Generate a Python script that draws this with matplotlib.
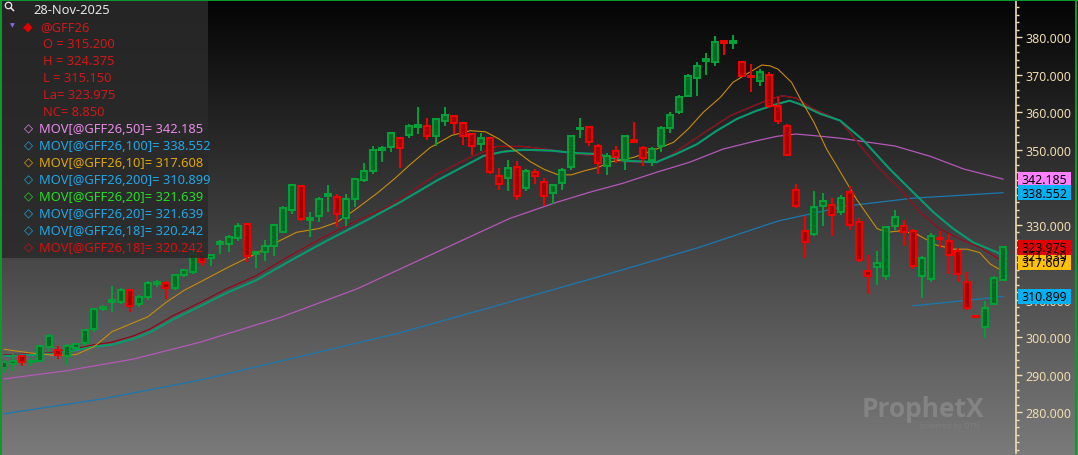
import numpy as np
import matplotlib
matplotlib.use("Agg")
import matplotlib.pyplot as plt
from matplotlib.patches import Rectangle, Circle
from matplotlib.ticker import MultipleLocator, FormatStrFormatter

# ---------------- data ----------------
opens = [291.7, 293.0, 294.9, 293.3, 293.8, 297.3, 296.7, 295.1, 297.1, 298.5,
         302.2, 307.5, 309.5, 309.3, 312.7, 308.9, 310.7, 314.2, 314.5, 313.1,
         316.6, 317.5, 322.2, 321.1, 324.8, 324.9, 326.4, 330.2, 322.2, 322.8,
         324.4, 328.2, 334.0, 340.3, 331.2, 332.3, 337.6, 337.3, 331.7, 336.9,
         342.0, 344.4, 350.0, 350.7, 353.1, 353.9, 356.2, 356.3, 353.8, 357.8,
         358.9, 357.1, 354.2, 351.5, 353.1, 342.9, 342.4, 345.3, 339.7, 344.0,
         341.5, 338.5, 341.1, 345.3, 355.5, 356.0, 351.1, 345.6, 349.8, 347.4,
         352.6, 350.4, 347.4, 350.9, 355.7, 360.2, 364.4, 369.1, 373.6, 373.5,
         378.9, 378.6, 373.5, 369.7, 368.4, 369.9, 361.6, 356.4, 339.4, 328.4,
         327.5, 334.9, 335.3, 333.5, 338.8, 330.7, 317.8, 318.7, 316.3, 329.6,
         329.6, 328.4, 316.4, 315.5, 326.6, 325.8, 323.1, 314.7, 305.6, 302.7,
         308.9, 315.2]
highs = [294.0, 295.5, 295.2, 294.5, 298.0, 300.8, 297.8, 298.2, 298.6, 302.3,
         307.8, 308.5, 313.6, 313.2, 313.0, 311.2, 315.0, 315.2, 315.0, 317.0,
         318.3, 323.5, 322.5, 322.3, 325.9, 327.2, 330.5, 330.6, 323.1, 326.0,
         330.3, 335.0, 341.0, 340.7, 333.3, 337.3, 340.6, 338.2, 338.2, 342.6,
         346.5, 351.0, 351.0, 354.8, 353.5, 356.8, 361.3, 358.4, 358.6, 361.3,
         359.3, 357.5, 354.6, 354.5, 353.5, 345.1, 347.4, 347.1, 345.0, 344.9,
         342.4, 341.0, 345.1, 354.0, 358.4, 356.4, 351.5, 349.1, 350.9, 354.0,
         357.3, 350.9, 350.7, 356.3, 360.2, 364.5, 370.2, 373.3, 375.8, 380.3,
         379.3, 380.6, 373.8, 372.9, 371.5, 370.8, 364.0, 357.0, 340.9, 332.3,
         339.1, 338.5, 337.1, 338.0, 340.3, 331.8, 322.0, 323.1, 329.7, 334.0,
         331.4, 328.8, 321.6, 327.8, 328.4, 327.5, 323.7, 317.3, 305.6, 309.8,
         316.3, 324.375]
lows = [290.5, 291.1, 292.4, 292.4, 293.3, 296.0, 294.2, 292.6, 296.8, 297.8,
        301.5, 307.0, 306.7, 308.8, 306.8, 308.0, 310.0, 313.5, 310.2, 312.5,
        316.0, 317.0, 318.9, 318.9, 322.2, 322.7, 325.7, 320.2, 318.4, 320.4,
        321.8, 327.8, 332.9, 331.0, 326.8, 330.7, 333.5, 329.3, 329.6, 334.7,
        341.5, 343.6, 346.8, 349.3, 345.1, 353.1, 354.2, 352.7, 351.1, 356.3,
        354.2, 351.3, 348.6, 349.8, 343.5, 339.4, 339.1, 336.7, 339.0, 340.9,
        334.9, 335.5, 339.4, 344.7, 353.1, 351.1, 343.5, 343.3, 346.5, 344.7,
        351.8, 345.8, 345.6, 349.5, 354.5, 359.5, 364.0, 364.4, 369.9, 372.4,
        375.3, 376.9, 369.5, 365.5, 366.9, 361.1, 356.9, 348.3, 334.4, 321.1,
        326.9, 329.6, 327.1, 332.6, 328.7, 320.2, 311.6, 314.0, 315.4, 328.7,
        324.3, 318.2, 310.4, 314.7, 323.7, 316.9, 314.8, 307.4, 305.4, 299.8,
        308.5, 315.15]
closes = [293.5, 293.6, 293.5, 293.8, 297.6, 300.4, 295.3, 297.8, 298.2, 302.0,
          307.5, 308.1, 309.9, 312.6, 308.4, 310.7, 314.4, 314.7, 313.1, 316.6,
          317.9, 322.2, 320.0, 322.0, 325.3, 326.8, 329.6, 321.6, 322.8, 324.3,
          329.9, 334.4, 340.6, 331.5, 331.8, 336.9, 338.1, 332.9, 336.9, 342.2,
          344.4, 350.0, 350.5, 354.4, 350.4, 356.3, 356.7, 353.8, 358.2, 359.3,
          357.1, 353.8, 351.1, 353.1, 344.2, 340.9, 345.1, 337.6, 344.4, 342.9,
          337.6, 340.6, 344.7, 353.6, 355.9, 352.2, 346.5, 348.4, 348.0, 353.6,
          352.2, 347.7, 350.2, 355.7, 359.3, 364.0, 369.6, 372.4, 374.1, 378.7,
          378.5, 379.0, 369.8, 369.3, 370.8, 361.6, 357.8, 348.6, 334.9, 325.5,
          334.7, 336.4, 332.6, 337.1, 329.9, 320.7, 316.4, 319.8, 329.3, 332.0,
          328.0, 318.9, 321.1, 326.9, 326.2, 322.0, 316.9, 307.7, 305.4, 307.7,
          315.7, 323.975]

ma10_x = [0, 3, 6, 8, 10, 12, 14, 16, 18, 20, 22, 25, 28, 30, 32.5, 35, 37, 39, 41.5,
          43.5, 45, 47.3, 49.7, 51.8, 53.5, 55, 57, 58.5, 60, 61.5, 63, 64.5, 66, 67.3,
          70, 72.5, 74.4, 76, 77.7, 79.6, 81, 82.5, 84.2, 85.1, 86, 87.5, 88.5, 90,
          91.4, 92.7, 94.7, 97, 98.1, 99.6, 101.4, 103.6, 105.5, 107, 108.4, 109.6, 111]
ma10_y = [296.8, 295.8, 295.1, 295.4, 297.5, 301.5, 303.5, 305.5, 309.3, 312.5, 315.0,
          318.8, 322.3, 325.0, 328.0, 329.0, 330.7, 334.0, 338.5, 342.5, 345.8, 350.5,
          353.8, 355.1, 354.8, 352.9, 349.5, 346.8, 344.8, 343.4, 343.3, 344.4, 345.3,
          346.7, 348.0, 350.2, 352.0, 355.5, 360.0, 364.0, 368.0, 370.2, 372.6, 372.4,
          371.5, 368.0, 363.5, 357.3, 350.2, 345.0, 336.9, 329.0, 328.0, 328.4, 327.5,
          324.6, 323.5, 323.5, 322.6, 319.5, 317.6]

ma18_x = [0, 5, 8, 10, 12, 14.4, 16.2, 18.8, 21.8, 24.7, 28, 31.8, 35.5, 39.2, 42.9,
          44.4, 48.1, 51.8, 54.7, 57.7, 60.7, 63.6, 65.9, 68.8, 72.5, 74, 76.2, 78.4,
          80.7, 82.9, 85.1, 86.5, 88, 89.9, 92.9, 95, 97.3, 99.6, 101.8, 104, 106.2,
          108.4, 111]
ma18_y = [295.3, 295.8, 297.0, 298.0, 298.7, 300.4, 302.2, 305.8, 309.3, 312.9, 316.4,
          321.8, 326.7, 331.1, 335.1, 337.5, 343.5, 348.0, 350.9, 350.9, 350.0, 348.9,
          348.4, 346.8, 346.7, 348.4, 352.0, 355.5, 359.1, 361.3, 363.5, 364.4, 363.8,
          360.9, 357.8, 351.5, 344.9, 339.5, 333.3, 328.9, 326.2, 324.0, 320.242]

ma20_x = [0, 5, 8, 10, 12, 14.4, 16.2, 18.8, 21.8, 24.7, 28, 31.8, 35.5, 40.7, 44,
          48.1, 53.3, 55.5, 57.7, 60.7, 63.6, 65.9, 68.8, 72.5, 74.7, 77, 79.2, 81.4,
          83.6, 85.9, 87.3, 88.4, 90.7, 92.9, 95.5, 98.4, 101, 103.3, 105.5, 107.7,
          110.3, 111]
ma20_y = [295.0, 295.5, 296.6, 297.5, 298.0, 299.6, 301.3, 304.8, 308.3, 311.8, 315.2,
          320.4, 325.3, 331.7, 336.0, 341.8, 348.4, 349.5, 350.0, 349.8, 349.1, 348.9,
          347.1, 346.7, 348.9, 351.5, 355.1, 358.2, 360.4, 362.2, 363.1, 362.2, 359.6,
          357.8, 352.5, 344.9, 338.7, 333.3, 328.9, 325.3, 322.7, 321.639]

ma50_x = [0, 7, 14.4, 21.8, 30.7, 39.2, 44, 56.2, 61.4, 65.1, 68.8, 72.5, 76.2, 79.9,
          83.6, 85.9, 88, 89.9, 92.9, 99, 103, 106.6, 111]
ma50_y = [288.9, 291.1, 294.2, 298.7, 305.3, 312.9, 318.2, 331.7, 336.0, 338.7, 341.1,
          344.0, 346.7, 350.2, 352.4, 353.6, 354.2, 353.8, 353.1, 351.0, 348.2, 344.9,
          342.185]

ma100_x = [0, 11, 22, 31, 44, 55, 66, 77, 86, 93.6, 101, 111]
ma100_y = [279.6, 283.6, 288.7, 293.8, 301.2, 308.6, 316.1, 323.8, 331.0, 335.0, 337.1,
           338.552]

ma200_x = [101, 104.7, 108.4, 111]
ma200_y = [308.4, 309.3, 310.2, 310.899]

legend_date = "28-Nov-2025"
symbol = "@GFF26"
ohlc_lines = ["O = 315.200", "H = 324.375", "L = 315.150", "La= 323.975", "NC= 8.850"]
ma_labels = ["MOV[@GFF26,50]= 342.185", "MOV[@GFF26,100]= 338.552",
             "MOV[@GFF26,10]= 317.608", "MOV[@GFF26,200]= 310.899",
             "MOV[@GFF26,20]= 321.639", "MOV[@GFF26,20]= 321.639",
             "MOV[@GFF26,18]= 320.242", "MOV[@GFF26,18]= 320.242"]
ma_label_colors = ["#e88ae8", "#1ea8e8", "#e0a800", "#1ea8e8",
                   "#22e022", "#1ea8e8", "#1ea8e8", "#d81010"]

axis_values = [342.185, 338.552, 321.639, 323.975, 317.607, 310.899]
axis_colors = ["#ff80ff", "#00b0f0", "#00ff00", "#e00000", "#ffc000", "#00b0f0"]
axis_shift = [0, 0, 0, 0, 2.4, 0]   # label nudges seen in the reference

yticks = list(range(280, 390, 10))

# ---------------- figure ----------------
W, H = 1078, 456
fig = plt.figure(figsize=(W / 100, H / 100), dpi=100)
FONT = ["Noto Sans", "DejaVu Sans"]
FS = 9.3

bg = fig.add_axes([0, 0, 1, 1], zorder=0)
g = np.linspace(4, 122, H) / 255.0
img = np.repeat(np.repeat(g[:, None, None], 3, axis=2), 2, axis=1)
bg.imshow(img, extent=[0, 1, 0, 1], aspect="auto", origin="upper")
bg.set_xlim(0, 1); bg.set_ylim(0, 1); bg.axis("off")

ax = fig.add_axes([3 / W, 2 / H, (1016 - 3) / W, 452 / H], zorder=1)
ax.set_facecolor("none")
ax.set_xlim((3 - 4) / 9, (1016 - 4) / 9)
ax.set_ylim(380 - (454 - 38.3) / 3.75, 380 + (38.3 - 2) / 3.75)
for s in ["left", "top", "bottom"]:
    ax.spines[s].set_visible(False)
ax.spines["right"].set_color("#f0dcb0")
ax.spines["right"].set_linewidth(1.2)
ax.set_xticks([])
ax.yaxis.tick_right()
ax.set_yticks(yticks)
ax.yaxis.set_major_formatter(FormatStrFormatter("%.3f"))
ax.yaxis.set_minor_locator(MultipleLocator(2))
ax.tick_params(axis="y", which="major", length=4.5, width=1, color="#f0dcb0",
               labelcolor="#f0dcb0", labelsize=8.9, pad=2.5)
ax.tick_params(axis="y", which="minor", length=2.3, width=1, color="#f0dcb0")
for lab in ax.get_yticklabels():
    lab.set_family(FONT)

# moving averages
ax.plot(ma100_x, ma100_y, color="#1a78b0", lw=0.9, zorder=2)
ax.plot(ma200_x, ma200_y, color="#1a78b0", lw=0.9, zorder=2)
ax.plot(ma50_x, ma50_y, color="#b458b8", lw=0.9, zorder=2)
ax.plot(ma18_x, ma18_y, color="#1a78b0", lw=0.9, zorder=2)
ax.plot(ma18_x, ma18_y, color="#a00000", lw=0.9, zorder=2.1)
ax.plot(ma20_x, ma20_y, color="#1b80c0", lw=1.5, zorder=2.2)
ax.plot(ma20_x, ma20_y, color="#00a83a", lw=0.9, zorder=2.3)
ax.plot(ma10_x, ma10_y, color="#c88c10", lw=0.8, zorder=2.4)

# candles
for i, (o, h, l, c) in enumerate(zip(opens, highs, lows, closes)):
    up = c >= o
    edge = "#00a038" if up else "#f00000"
    fill = "#006a24" if up else "#a00000"
    ax.vlines(i, l, h, color=edge, lw=1.45, zorder=3)
    ax.bar(i, max(abs(c - o), 0.05), bottom=min(o, c), width=0.7,
           facecolor=fill, edgecolor=edge, linewidth=1.45, zorder=4)

fig.canvas.draw()

# ---------------- overlay in pixel coordinates ----------------
ov = fig.add_axes([0, 0, 1, 1], zorder=5)
ov.set_xlim(0, W); ov.set_ylim(H, 0); ov.axis("off"); ov.set_facecolor("none")

# watermark
ov.text(923, 410, "ProphetX", fontsize=19, fontweight="bold", color="#8c8c8c",
        ha="center", va="center", family=["Open Sans", "DejaVu Sans"], alpha=0.75)
ov.text(950, 427, "powered by DTN", fontsize=5.5, color="#818181",
        ha="center", va="center", family=FONT, alpha=0.8)

# axis value labels
for v, col, sh in zip(axis_values, axis_colors, axis_shift):
    yd = ax.transData.transform((0, v + sh))[1]
    yc = H - yd
    ov.add_patch(Rectangle((1018, yc - 7.5), 53, 15, facecolor=col, edgecolor="none"))
    ov.text(1044.5, yc + 0.5, f"{v:.3f}", fontsize=8.9, color="black",
            ha="center", va="center", family=FONT)

# legend panel
ov.add_patch(Rectangle((0, 0), 208, 259, facecolor="#2a2a2a", alpha=0.88,
                       edgecolor="none"))
ov.add_patch(Circle((8.5, 6.5), 3.2, fill=False, edgecolor="#e8e8e8", lw=0.9))
ov.plot([10.8, 13.5], [8.8, 11.5], color="#e8e8e8", lw=1.1)
ov.text(33, 10.5, legend_date, fontsize=FS, color="#e6e6e6", va="center", family=FONT)
ov.text(12, 26, "\u25BC", fontsize=4.5, color="#8070e0", ha="center", va="center",
        family=["DejaVu Sans"])
ov.text(28, 27, "\u25C6", fontsize=9, color="#e00000", ha="center", va="center",
        family=["DejaVu Sans"])
ov.text(40, 27.5, symbol, fontsize=FS, color="#d01818", va="center", family=FONT)
for k, t in enumerate(ohlc_lines):
    ov.text(43, 44.5 + 17 * k, t, fontsize=FS, color="#d01818", va="center", family=FONT)
for k, (t, col) in enumerate(zip(ma_labels, ma_label_colors)):
    yy = 129.5 + 17 * k
    ov.text(28, yy, "\u25C7", fontsize=8.5, color=col, ha="center", va="center",
            family=["DejaVu Sans"])
    ov.text(39, yy, t, fontsize=FS, color=col, va="center", family=FONT)

# window border
green = "#0c9a30"
ov.add_patch(Rectangle((0, 0), 2, H, facecolor=green, edgecolor="none"))
ov.add_patch(Rectangle((0, 0), W, 1.6, facecolor=green, edgecolor="none"))
ov.add_patch(Rectangle((1075, 0), 2, H, facecolor=green, edgecolor="none"))

fig.savefig("out.png", dpi=100)
